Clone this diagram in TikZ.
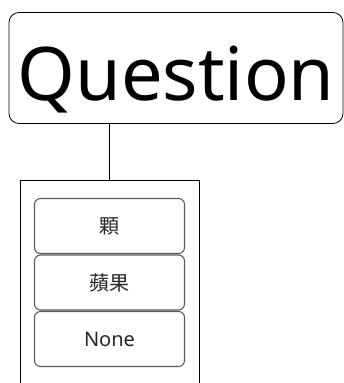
\documentclass[tikz,border=0pt]{standalone}
\usepackage{fontspec}
\setmainfont{Noto Sans}
\newfontfamily\cjk{Noto Sans CJK TC}

\begin{document}
\begin{tikzpicture}[x=1pt,y=-1pt,
	box/.style={draw,rounded corners=10pt,line width=0.8pt,inner sep=0pt},
	item/.style={draw,rounded corners=6pt,line width=1.1pt,draw=black!65,minimum width=150pt,minimum height=55pt,inner sep=0pt,font=\fontsize{20}{22}\selectfont,text=black!85}]
		\useasboundingbox (0,0) rectangle (344,383);
		\node[box,minimum width=334pt,text height=88pt,text depth=23pt,font=\fontsize{74}{80}\selectfont] (Q) at (176,68) {Question};
		\node[draw,line width=0.8pt,minimum width=179pt,minimum height=240pt,inner sep=0pt] (list) at (109.5,300) {};
		\node[item] (A1) at (109.5,226) {\cjk 顆};
		\node[item] (A2) at (109.5,282.5) {\cjk 蘋果};
		\node[item] (A3) at (109.5,339) {None};
		\draw[line width=0.8pt] (list.north) -- (list.north |- Q.south);
	\end{tikzpicture}
\end{document}
